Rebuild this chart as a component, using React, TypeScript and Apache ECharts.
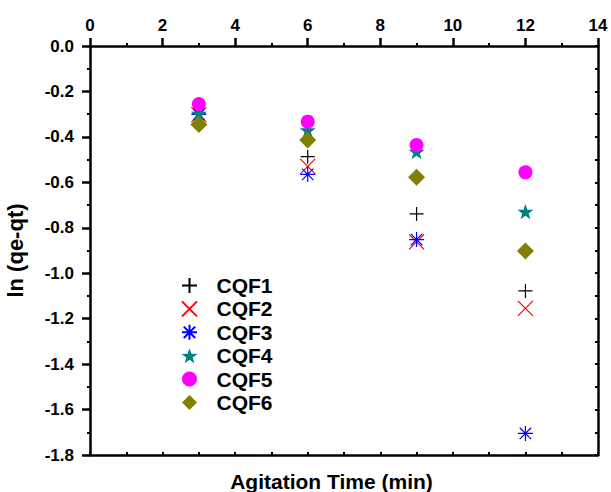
import React, { useEffect, useRef } from "react";
import * as echarts from "echarts";

// ---- data ----
const timeValues = [3, 6, 9, 12];
const seriesNames = ["CQF1", "CQF2", "CQF3", "CQF4", "CQF5", "CQF6"];
const cqf1 = [-0.3, -0.487, -0.739, -1.078];
const cqf2 = [-0.302, -0.53, -0.862, -1.155];
const cqf3 = [-0.3, -0.565, -0.852, -1.705];
const cqf4 = [-0.297, -0.37, -0.465, -0.729];
const cqf5 = [-0.255, -0.333, -0.436, -0.556];
const cqf6 = [-0.345, -0.414, -0.578, -0.902];
const xTickLabels = [0, 2, 4, 6, 8, 10, 12, 14];
const yTickLabels = [0.0, -0.2, -0.4, -0.6, -0.8, -1.0, -1.2, -1.4, -1.6, -1.8];

const seriesValues = [cqf1, cqf2, cqf3, cqf4, cqf5, cqf6];
const seriesColors = ["#000000", "#ff0000", "#0000ff", "#008080", "#ff00ff", "#808000"];

// star shape
function starPath(): string {
  const pts: string[] = [];
  for (let i = 0; i < 10; i++) {
    const r = i % 2 === 0 ? 5 : 2;
    const a = -Math.PI / 2 + (i * Math.PI) / 5;
    pts.push((5 + r * Math.cos(a)).toFixed(3) + "," + (5 + r * Math.sin(a)).toFixed(3));
  }
  return "path://M" + pts.join("L") + "Z";
}

const seriesSymbols = [
  "path://M0,5L10,5M5,0L5,10",
  "path://M0,0L10,10M10,0L0,10",
  "path://M0,5L10,5M5,0L5,10M1.2,1.2L8.8,8.8M8.8,1.2L1.2,8.8",
  starPath(),
  "path://M5,0A5,5,0,1,1,4.999,0Z",
  "path://M5,0L10,5L5,10L0,5Z",
];
const seriesSizes = [14, 15, 15, 16, 14, 17];
const lineSymbol = [true, true, true, false, false, false];

const FONT = "'Liberation Sans', Arial, sans-serif";

export default function App() {
  const ref = useRef<HTMLDivElement>(null);
  useEffect(() => {
    if (!ref.current) return;
    const chart = echarts.init(ref.current, null, { renderer: "svg" });
    const series = seriesNames.map((name, i) => ({
      name,
      type: "scatter" as const,
      xAxisIndex: 0,
      yAxisIndex: 0,
      symbol: seriesSymbols[i],
      symbolSize: seriesSizes[i],
      symbolKeepAspect: true,
      data: timeValues.map((t, j) => [t, seriesValues[i][j]]),
      itemStyle: lineSymbol[i]
        ? { color: "rgba(0,0,0,0)", borderColor: seriesColors[i], borderWidth: 1.2, opacity: 1 }
        : { color: seriesColors[i], borderWidth: 0, opacity: 1 },
      emphasis: { disabled: true },
    }));
    const labelStyle = { fontFamily: FONT, fontWeight: "bold" as const, fontSize: 17, color: "#000" };
    chart.setOption({
      animation: false,
      backgroundColor: "#ffffff",
      grid: { left: 90, right: 13, top: 46, bottom: 37, outerBoundsMode: "none", containLabel: false },
      legend: {
        orient: "vertical",
        left: 176,
        top: 270,
        itemWidth: 44,
        itemHeight: 15,
        itemGap: 2.4,
        symbolKeepAspect: true,
        data: seriesNames,
        textStyle: { fontFamily: FONT, fontWeight: "bold", fontSize: 21, color: "#000" },
        selectedMode: false,
      },
      xAxis: [
        {
          type: "value",
          position: "top",
          min: xTickLabels[0],
          max: xTickLabels[xTickLabels.length - 1],
          interval: 2,
          axisLine: { show: true, onZero: false, lineStyle: { color: "#000", width: 2.5 } },
          axisTick: { show: true, length: 8, lineStyle: { color: "#000", width: 2.5 } },
          minorTick: { show: true, splitNumber: 2, length: 3, lineStyle: { color: "#000", width: 2 } },
          axisLabel: { ...labelStyle, margin: 12 },
          splitLine: { show: false },
        },
        {
          type: "value",
          position: "bottom",
          min: 0,
          max: 14,
          interval: 1,
          name: "Agitation Time (min)",
          nameLocation: "middle",
          nameGap: 16,
          nameTextStyle: { fontFamily: FONT, fontWeight: "bold", fontSize: 21, color: "#000", padding: [0, 25, 0, 0] },
          axisLine: { show: true, onZero: false, lineStyle: { color: "#000", width: 2.5 } },
          axisTick: { show: true, inside: true, length: 3, lineStyle: { color: "#000", width: 2 } },
          axisLabel: { show: false },
          splitLine: { show: false },
        },
      ],
      yAxis: [
        {
          type: "value",
          position: "left",
          min: yTickLabels[yTickLabels.length - 1],
          max: yTickLabels[0],
          interval: 0.2,
          name: "ln (qe-qt)",
          nameLocation: "middle",
          nameGap: 64,
          nameTextStyle: { fontFamily: FONT, fontWeight: "bold", fontSize: 22, color: "#000" },
          axisLine: { show: true, onZero: false, lineStyle: { color: "#000", width: 2.5 } },
          axisTick: { show: true, length: 8, lineStyle: { color: "#000", width: 2.5 } },
          minorTick: { show: true, splitNumber: 2, length: 3, lineStyle: { color: "#000", width: 2 } },
          axisLabel: { ...labelStyle, margin: 16, formatter: (v: number) => v.toFixed(1) },
          splitLine: { show: false },
        },
        {
          type: "value",
          position: "right",
          min: -1.8,
          max: 0,
          interval: 0.1,
          axisLine: { show: true, onZero: false, lineStyle: { color: "#000", width: 2.5 } },
          axisTick: { show: true, inside: true, length: 3, lineStyle: { color: "#000", width: 2 } },
          axisLabel: { show: false },
          splitLine: { show: false },
        },
      ],
      series,
    });
    return () => chart.dispose();
  }, []);
  return (
    <div
      ref={ref}
      style={{ position: "fixed", left: 0, top: 0, width: 611, height: 492, background: "#fff" }}
    />
  );
}
